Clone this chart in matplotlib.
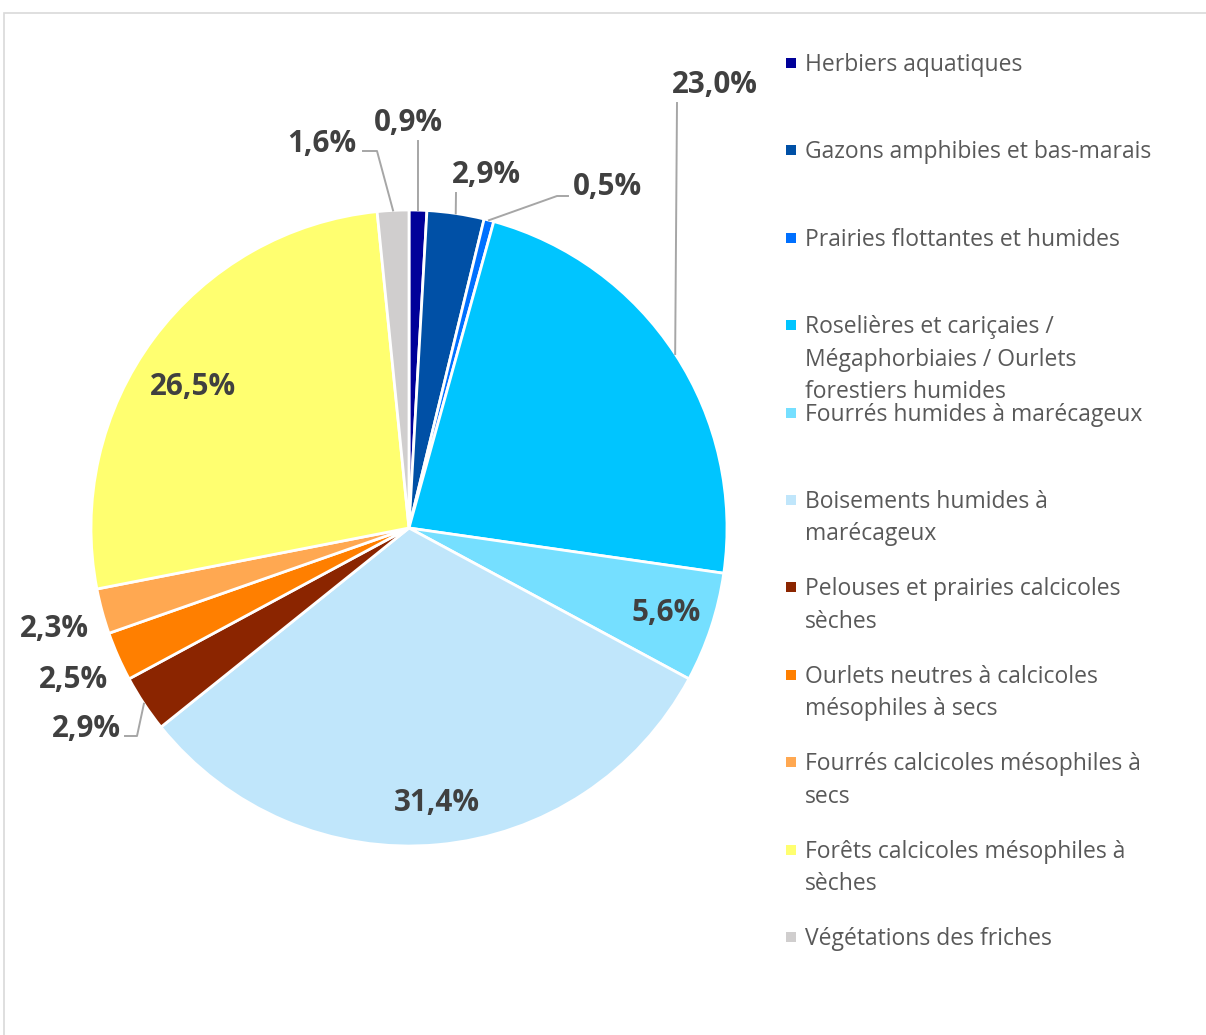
import math
import matplotlib.pyplot as plt
from matplotlib.patches import Rectangle

# data
categories = [
    "Herbiers aquatiques",
    "Gazons amphibies et bas-marais",
    "Prairies flottantes et humides",
    "Roselières et cariçaies /\nMégaphorbiaies / Ourlets\nforestiers humides",
    "Fourrés humides à marécageux",
    "Boisements humides à\nmarécageux",
    "Pelouses et prairies calcicoles\nsèches",
    "Ourlets neutres à calcicoles\nmésophiles à secs",
    "Fourrés calcicoles mésophiles à\nsecs",
    "Forêts calcicoles mésophiles à\nsèches",
    "Végétations des friches",
]
values = [0.9, 2.9, 0.5, 23.0, 5.6, 31.4, 2.9, 2.5, 2.3, 26.5, 1.6]
colors = ["#000099", "#0050A6", "#0070FF", "#00C5FF", "#75DFFF", "#C0E6FB",
          "#8B2500", "#FF7F00", "#FFA851", "#FFFF70", "#D0CECE"]

W, H = 1206, 1035
plt.rcParams['font.family'] = ['Open Sans', 'DejaVu Sans']

fig = plt.figure(figsize=(W / 100, H / 100), dpi=100)
ax = fig.add_axes([0, 0, 1, 1])


def Y(py):
    # pixel row (top-down) to axes y
    return H - py


cx, cy, R = 409, 528, 318
wedges, _ = ax.pie(values, colors=colors, startangle=90, counterclock=False,
                   center=(cx, Y(cy)), radius=R,
                   wedgeprops=dict(edgecolor='white', linewidth=2))
ax.set_xlim(0, W)
ax.set_ylim(0, H)
ax.axis('off')

# label layout: (x centre, baseline in px, elbow points of leader line)
label_pos = [
    (408, 131, [(418, 141)]),
    (486, 183, [(456, 193)]),
    (607, 195, [(557, 196), (568, 196)]),
    (715, 93, [(677, 103)]),
    (666, 621, None),
    (437, 811, None),
    (86, 737, [(137, 736), (125, 736)]),
    (74, 688, None),
    (54, 637, None),
    (193, 395, None),
    (322, 152, [(377, 151), (363, 151)]),
]

total = sum(values)
cum = 0
for v, (lx, ly, pts) in zip(values, label_pos):
    mid = cum + v / 2
    cum += v
    ang = math.radians(90 - 360 * mid / total)
    rx, ry = cx + R * math.cos(ang), cy - R * math.sin(ang)
    ax.text(lx, Y(ly), f"{v:.1f}%".replace('.', ','), ha='center', va='baseline',
            fontsize=21.3, fontweight='bold', color='#404040')
    if pts:
        xs = [rx] + [p[0] for p in pts]
        ys = [Y(ry)] + [Y(p[1]) for p in pts]
        ax.plot(xs, ys, color='#A6A6A6', lw=1.4)

# legend drawn by hand to keep Excel spacing
y0, step, lstep = 63, 87.4, 32.5
for i, (lab, c) in enumerate(zip(categories, colors)):
    yc = y0 + i * step
    ax.add_patch(Rectangle((786, Y(yc + 5)), 10, 10, color=c, lw=0))
    for j, line in enumerate(lab.split('\n')):
        ax.text(805, Y(yc + 8 + j * lstep), line, ha='left', va='baseline',
                fontsize=16.5, color='#595959')

# chart frame
ax.add_patch(Rectangle((4, Y(1060)), 1230, 1047, fill=False,
                       edgecolor='#D9D9D9', lw=1.2))

fig.savefig('out.png', dpi=100)
